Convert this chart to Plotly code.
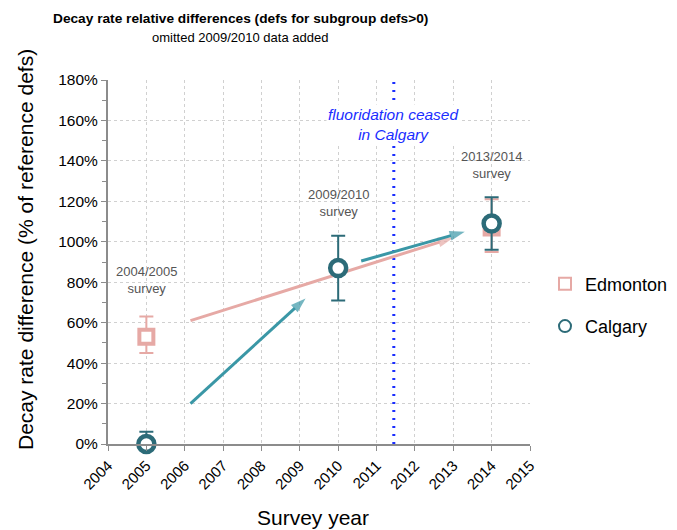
import plotly.graph_objects as go

# ---- data ----
edm_years = [2005, 2014]
edm_vals = [53, 107]
edm_err_plus = [10, 14]
edm_err_minus = [8, 12]

cal_years = [2005, 2010, 2014]
cal_vals = [0, 87, 109]
cal_err_plus = [6, 16, 13]
cal_err_minus = [0, 16, 13]

x_ticks = list(range(2004, 2016))
y_ticks = list(range(0, 181, 20))

ceased_year = 2011.45

# arrows (start x, start y, end x, end y)
pink_arrow = [2006.15, 61, 2013.0, 102]
teal_arrow1 = [2006.15, 20, 2009.15, 72]
teal_arrow2 = [2010.6, 90.5, 2013.3, 105]

survey_labels = ["2004/2005<br>survey", "2009/2010<br>survey", "2013/2014<br>survey"]
survey_label_x = [2005, 2010, 2014]
survey_label_y = [81, 119, 138]

title_text = "<b>Decay rate relative differences (defs for subgroup defs>0)</b>"
subtitle_text = "omitted 2009/2010 data added"
x_title = "Survey year"
y_title = "Decay rate difference (% of reference defs)"

PINK = "#E6A9A5"
TEAL_DARK = "#2C6B78"
TEAL_ARROW = "#3A97A6"
BLUE = "#1B2EFF"
FONT = "Liberation Sans, Arial, sans-serif"

# plot-area pixel geometry (used only to place free-floating texts)
PL, PR, PT, PB = 108, 530, 80, 444
def px_x(p):
    return (p - PL) / (PR - PL)
def px_y(p):
    return (PB - p) / (PB - PT)

fig = go.Figure()

# vertical dotted line
fig.add_trace(go.Scatter(
    x=[ceased_year, ceased_year], y=[0, 181], mode="lines",
    line=dict(color=BLUE, width=3, dash="2px,6px"),
    showlegend=False, hoverinfo="skip", cliponaxis=False))

def arrow_trace(a, color):
    return go.Scatter(
        x=[a[0], a[2]], y=[a[1], a[3]], mode="lines+markers",
        line=dict(color=color, width=3),
        marker=dict(symbol=["circle", "arrow"], size=[0, 16], color=color,
                    angleref="previous", line=dict(width=0)),
        showlegend=False, hoverinfo="skip")

fig.add_trace(arrow_trace(pink_arrow, PINK))
fig.add_trace(arrow_trace(teal_arrow1, TEAL_ARROW))
fig.add_trace(arrow_trace(teal_arrow2, TEAL_ARROW))

fig.add_trace(go.Scatter(
    x=edm_years, y=edm_vals, mode="markers", name="Edmonton", legendgroup="e",
    marker=dict(symbol="square", size=14, color="white",
                line=dict(color=PINK, width=4)),
    error_y=dict(type="data", array=edm_err_plus, arrayminus=edm_err_minus,
                 color=PINK, thickness=2, width=7),
    cliponaxis=False))

fig.add_trace(go.Scatter(
    x=cal_years, y=cal_vals, mode="markers", name="Calgary", legendgroup="c",
    marker=dict(symbol="circle", size=16, color="white",
                line=dict(color=TEAL_DARK, width=4.5)),
    error_y=dict(type="data", array=cal_err_plus, arrayminus=cal_err_minus,
                 color=TEAL_DARK, thickness=2, width=7),
    cliponaxis=False))

annotations = []
for t, xx, yy in zip(survey_labels, survey_label_x, survey_label_y):
    annotations.append(dict(x=xx, y=yy, xref="x", yref="y", text=t,
                            showarrow=False, font=dict(family=FONT, size=13, color="#555555")))
annotations.append(dict(x=ceased_year, y=158, xref="x", yref="y",
                        text="<i>fluoridation ceased<br>in Calgary</i>", showarrow=False,
                        bgcolor="white",
                        font=dict(family=FONT, size=15.5, color=BLUE)))
annotations.append(dict(x=px_x(240), y=px_y(19), xref="paper", yref="paper",
                        text=title_text, showarrow=False, xanchor="center", yanchor="middle",
                        font=dict(family=FONT, size=13.7, color="black")))
annotations.append(dict(x=px_x(240), y=px_y(38), xref="paper", yref="paper",
                        text=subtitle_text, showarrow=False, xanchor="center", yanchor="middle",
                        font=dict(family=FONT, size=13, color="black")))
annotations.append(dict(x=px_x(313), y=px_y(517), xref="paper", yref="paper",
                        text=x_title, showarrow=False, xanchor="center", yanchor="middle",
                        font=dict(family=FONT, size=21, color="black")))
annotations.append(dict(x=px_x(25), y=px_y(250), xref="paper", yref="paper",
                        text=y_title, showarrow=False, xanchor="center", yanchor="middle",
                        textangle=-90,
                        font=dict(family=FONT, size=21, color="black")))

fig.update_layout(
    width=677, height=530,
    margin=dict(l=100, r=155, t=72, b=94),
    plot_bgcolor="white", paper_bgcolor="white",
    font=dict(family=FONT, color="black"),
    annotations=annotations,
    legend=dict(x=px_x(545), y=px_y(305), xanchor="left", yanchor="middle",
                font=dict(family=FONT, size=18, color="black"),
                tracegroupgap=16, itemsizing="constant", traceorder="grouped"),
    xaxis=dict(range=[2004, 2015], tickvals=x_ticks, ticktext=[str(v) for v in x_ticks],
               tickangle=-45, tickfont=dict(size=15), showgrid=True,
               gridcolor="#D0D0D0", griddash="dot", gridwidth=1,
               showline=True, linecolor="#8C8C8C", linewidth=2,
               ticks="outside", tickcolor="#8C8C8C", ticklen=5,
               zeroline=False),
    yaxis=dict(range=[0, 180], tickvals=y_ticks, ticktext=[f"{v}%" for v in y_ticks],
               tickfont=dict(size=15.5), showgrid=True, gridcolor="#D0D0D0",
               griddash="dot", gridwidth=1, showline=True, linecolor="#8C8C8C",
               linewidth=2, ticks="outside", tickcolor="#8C8C8C", ticklen=5,
               minor=dict(dtick=10, ticks="outside", ticklen=4, tickcolor="#8C8C8C", showgrid=False),
               zeroline=False),
)

fig.write_html("out.html")
